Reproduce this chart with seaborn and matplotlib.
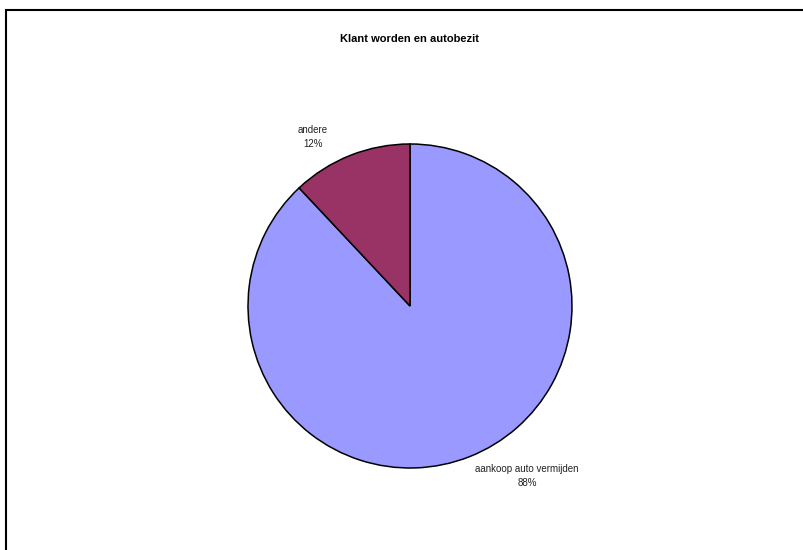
import matplotlib
matplotlib.use("Agg")
import matplotlib.pyplot as plt
import matplotlib.patches as mpatches
import seaborn as sns

# data
categories = ["aankoop auto vermijden", "andere"]
shares = [88, 12]
colors = ["#9999FF", "#993366"]
title = "Klant worden en autobezit"

sns.set_theme(style="white")
plt.rcParams["font.family"] = ["Liberation Sans", "DejaVu Sans"]

W, H = 804, 550
fig = plt.figure(figsize=(W / 100, H / 100), dpi=100)

# pie centre (410, 306) px, radius 162 px
cx, cy, r = 410, 306, 162
ax = fig.add_axes([(cx - r) / W, (H - cy - r) / H, 2 * r / W, 2 * r / H])

wedges, _ = ax.pie(shares, colors=sns.color_palette(colors), startangle=90,
                   counterclock=False, radius=1,
                   wedgeprops=dict(edgecolor="black", linewidth=1.1))
ax.set_xlim(-1, 1)
ax.set_ylim(-1, 1)
ax.set_aspect("equal")
ax.axis("off")

# labels in pixel offsets from the centre, converted to radius units
label_px = {"andere": (313, 137), "aankoop auto vermijden": (527, 476)}
for cat, val in zip(categories, shares):
    px, py = label_px[cat]
    ax.text((px - cx) / r, (cy - py) / r, f"{cat}\n{val}%", ha="center", va="center",
            fontsize=7, color="#222222", linespacing=1.4, clip_on=False)

fig.text(cx / W, 1 - 39 / H, title, ha="center", va="center",
         fontsize=8, fontweight="bold", color="black")

# chart area border (only top and left edges visible in the crop)
fig.patches.append(mpatches.Rectangle((6 / W, -0.1), 1.1, 1 - 10 / H + 0.1,
                                      transform=fig.transFigure, fill=False,
                                      edgecolor="black", linewidth=1.5))

fig.savefig("out.png", dpi=100)
